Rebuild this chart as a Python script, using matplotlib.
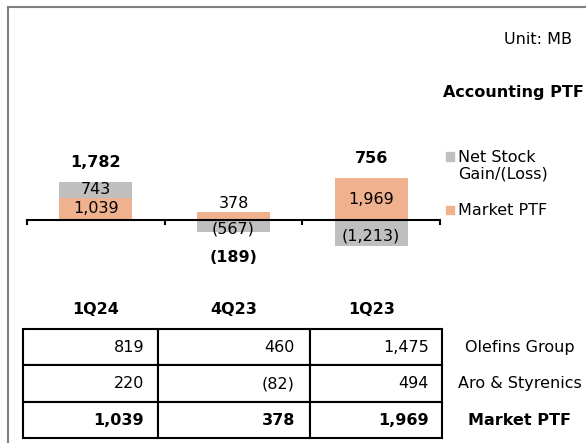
import matplotlib.pyplot as plt
from matplotlib.patches import Rectangle
from matplotlib.lines import Line2D
import numpy as np

# data (Unit: MB)
quarters = ['1Q24', '4Q23', '1Q23']
market_ptf = [1039, 378, 1969]
net_stock = [743, -567, -1213]
accounting_ptf = [1782, -189, 756]
olefins = [819, 460, 1475]
aro_styrenics = [220, -82, 494]
row_labels = ['Olefins Group', 'Aro & Styrenics', 'Market PTF']

orange = '#F0B18E'
gray = '#BFBFBF'
W, H = 586, 443
fs = 11.5


def fmt(v):
    return f"{v:,}" if v >= 0 else f"({-v:,})"


def fx(px):
    return px / W


def fy(py):
    return 1 - py / H


fig = plt.figure(figsize=(W / 100, H / 100), dpi=100)

# bar chart area
ax = fig.add_axes([fx(27), fy(270), fx(440) - fx(27), fy(140) - fy(270)])
x = np.arange(len(quarters))
width = 0.53
gray_bottom = [m if n > 0 else 0 for m, n in zip(market_ptf, net_stock)]
ax.bar(x, market_ptf, width, color=orange)
ax.bar(x, net_stock, width, bottom=gray_bottom, color=gray)
ax.set_xlim(-0.5, 2.5)
ax.set_ylim(-2350, 3760)

for s in ['top', 'left', 'right']:
    ax.spines[s].set_visible(False)
ax.spines['bottom'].set_position(('data', 0))
ax.spines['bottom'].set_linewidth(1.5)
ax.set_xticks([-0.5, 0.5, 1.5, 2.5])
ax.tick_params(axis='x', direction='out', length=3.8, width=1.5, labelbottom=False)
ax.set_yticks([])

for i in range(len(quarters)):
    m, n, t = market_ptf[i], net_stock[i], accounting_ptf[i]
    if m > 500:
        ax.text(i, m / 2, fmt(m), ha='center', va='center', fontsize=fs)
    else:
        ax.annotate(fmt(m), (i, m), xytext=(0, 6.3), textcoords='offset points',
                    ha='center', va='center', fontsize=fs)
    if n > 0:
        ax.text(i, m + n / 2, fmt(n), ha='center', va='center', fontsize=fs)
    else:
        ax.annotate(fmt(n), (i, n / 2), xytext=(0, -2), textcoords='offset points',
                    ha='center', va='center', fontsize=fs)
    if t >= 0:
        top = m + max(n, 0)
        ax.annotate(fmt(t), (i, top), xytext=(0, 14), textcoords='offset points',
                    ha='center', va='center', fontsize=fs, fontweight='bold')
    else:
        bottom = min(n, 0)
        ax.annotate(fmt(t), (i, bottom), xytext=(0, -18), textcoords='offset points',
                    ha='center', va='center', fontsize=fs, fontweight='bold')
    ax.text(i, -0.3, quarters[i], transform=ax.get_xaxis_transform(),
            ha='center', va='center', fontsize=fs, fontweight='bold')

# table below
tax = fig.add_axes([fx(22.7), fy(438.3), fx(598) - fx(22.7), fy(329) - fy(438.3)])
tax.axis('off')
rows = [olefins, aro_styrenics, market_ptf]
cell_text = [[fmt(v) for v in r] + [lab] for r, lab in zip(rows, row_labels)]
col_w = np.array([135, 152.3, 132, 156]) / 575.3
tbl = tax.table(cellText=cell_text, colWidths=col_w, cellLoc='right', bbox=[0, 0, 1, 1])
tbl.auto_set_font_size(False)
tbl.set_fontsize(fs)
for (r, c), cell in tbl.get_celld().items():
    cell.set_linewidth(1.5)
    if c == 3:
        cell.visible_edges = ''
        cell.get_text().set_ha('center')
        cell._loc = 'center'
    if r == 2:
        cell.get_text().set_fontweight('bold')

# legend drawn by hand to keep the square on the first line
fig.add_artist(Rectangle((fx(446), fy(161)), fx(8), fy(152) - fy(161), color=gray,
                         transform=fig.transFigure))
fig.add_artist(Rectangle((fx(446), fy(214)), fx(8), fy(206) - fy(214), color=orange,
                         transform=fig.transFigure))
fig.text(fx(458.5), fy(166), 'Net Stock\nGain/(Loss)', ha='left', va='center',
         fontsize=fs, linespacing=1.15)
fig.text(fx(458.5), fy(210), 'Market PTF', ha='left', va='center', fontsize=fs)

fig.text(fx(571.5), fy(39), 'Unit: MB', ha='right', va='center', fontsize=fs)
fig.text(fx(584), fy(92), 'Accounting PTF', ha='right', va='center', fontsize=fs,
         fontweight='bold')

# frame lines top and left
fig.add_artist(Line2D([fx(7.5), fx(7.5)], [0, fy(6.5)], color='#808080', lw=1.5))
fig.add_artist(Line2D([fx(7.5), 1], [fy(6.5), fy(6.5)], color='#808080', lw=1.5))

fig.savefig('out.png', dpi=100)
